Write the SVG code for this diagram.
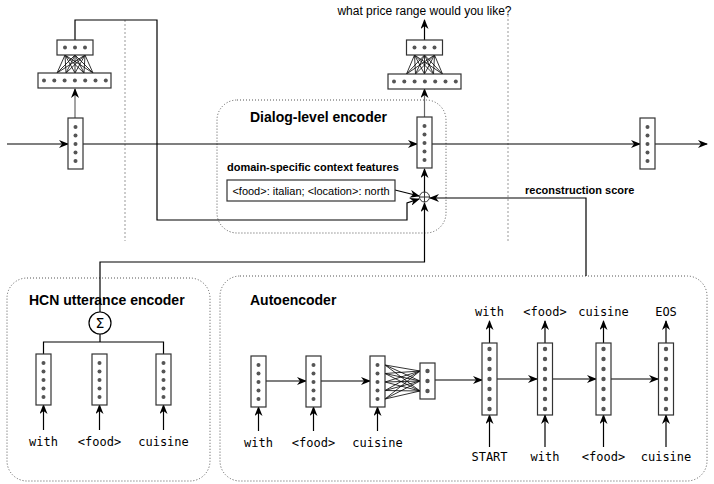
<svg xmlns="http://www.w3.org/2000/svg" width="714" height="484" viewBox="0 0 714 484">
<style>
.vec{fill:#fff;stroke:#333;stroke-width:1.2}
.dot{fill:#555}
.ln{fill:none;stroke:#000;stroke-width:1.2}
.gl{fill:none;stroke:#666;stroke-width:1.2}
.thin{stroke:#000;stroke-width:0.8}
.sep{stroke:#999;stroke-width:1;stroke-dasharray:2,2}
.grp{fill:none;stroke:#555;stroke-width:1;stroke-dasharray:1,2}
.hd{font-family:"Liberation Sans",Arial,sans-serif;font-weight:bold;font-size:14px}
.sm{font-family:"Liberation Sans",Arial,sans-serif;font-size:11px}
.smb{font-family:"Liberation Sans",Arial,sans-serif;font-size:11px;font-weight:bold}
.tt{font-family:"Liberation Sans",Arial,sans-serif;font-size:12px}
.mono{font-family:"DejaVu Sans Mono",monospace;font-size:12px;text-anchor:middle}
</style>
<defs>
<marker id="ah" viewBox="0 0 10 8" refX="9" refY="4" markerWidth="10" markerHeight="8" markerUnits="userSpaceOnUse" orient="auto">
<path d="M0,0 L10,4 L0,8 L3,4 z" fill="#000"/>
</marker>
</defs>

<!-- separators -->
<line class="sep" x1="125" y1="20" x2="125" y2="241"/>
<line class="sep" x1="508" y1="15" x2="508" y2="241"/>

<!-- group boxes -->
<g id="dialog-encoder">
<rect class="grp" x="217" y="100" width="229" height="133" rx="20"/>
<text class="hd" x="250" y="122">Dialog-level encoder</text>
<text class="smb" x="227" y="171">domain-specific context features</text>
</g>
<g id="hcn-encoder">
<rect class="grp" x="7" y="278" width="203" height="203" rx="20"/>
<text class="hd" x="29" y="305">HCN utterance encoder</text>
</g>
<g id="autoencoder">
<rect class="grp" x="220" y="276" width="487" height="205" rx="20"/>
<text class="hd" x="250" y="305">Autoencoder</text>
</g>

<!-- connectors -->
<g id="connectors">
<line class="ln" x1="7" y1="144" x2="68" y2="144" marker-end="url(#ah)"/>
<line class="ln" x1="83" y1="144" x2="417" y2="144" marker-end="url(#ah)"/>
<line class="ln" x1="432" y1="144" x2="640" y2="144" marker-end="url(#ah)"/>
<line class="ln" x1="655" y1="144" x2="707" y2="144" marker-end="url(#ah)"/>
<line class="gl" x1="75" y1="127" x2="75" y2="89" marker-end="url(#ah)"/>
<line class="gl" x1="424.5" y1="127" x2="424.5" y2="89" marker-end="url(#ah)"/>
<line class="ln" x1="424.5" y1="40" x2="424.5" y2="20" marker-end="url(#ah)"/>
<path class="ln" d="M75,40 V20 H157 V220 H407 V203 L419,199" marker-end="url(#ah)"/>
<line class="ln" x1="395" y1="190" x2="419" y2="196" marker-end="url(#ah)"/>
<line class="ln" x1="424.5" y1="192" x2="424.5" y2="169" marker-end="url(#ah)"/>
<path class="ln" d="M586,276 V198 H430" marker-end="url(#ah)"/>
<path class="ln" d="M100,312 V262 H424.5 V203" marker-end="url(#ah)"/>
<path class="ln" d="M100,334 V342 M43.5,354 V342 H163.5 V354"/>
<line class="ln" x1="43.5" y1="430" x2="43.5" y2="405" marker-end="url(#ah)"/>
<line class="ln" x1="99.5" y1="430" x2="99.5" y2="405" marker-end="url(#ah)"/>
<line class="ln" x1="163.5" y1="430" x2="163.5" y2="405" marker-end="url(#ah)"/>
<line class="ln" x1="258.5" y1="431" x2="258.5" y2="407" marker-end="url(#ah)"/>
<line class="ln" x1="313.5" y1="431" x2="313.5" y2="407" marker-end="url(#ah)"/>
<line class="ln" x1="377.5" y1="431" x2="377.5" y2="407" marker-end="url(#ah)"/>
<line class="ln" x1="266" y1="381" x2="306" y2="381" marker-end="url(#ah)"/>
<line class="ln" x1="321" y1="381" x2="370" y2="381" marker-end="url(#ah)"/>
<line class="ln" x1="435" y1="380" x2="482" y2="380" marker-end="url(#ah)"/>
<line class="ln" x1="497" y1="379" x2="537" y2="379" marker-end="url(#ah)"/>
<line class="ln" x1="553" y1="379" x2="596" y2="379" marker-end="url(#ah)"/>
<line class="ln" x1="611" y1="379" x2="658" y2="379" marker-end="url(#ah)"/>
<line class="ln" x1="489.5" y1="343" x2="489.5" y2="321" marker-end="url(#ah)"/>
<line class="ln" x1="545" y1="343" x2="545" y2="321" marker-end="url(#ah)"/>
<line class="ln" x1="603.5" y1="343" x2="603.5" y2="321" marker-end="url(#ah)"/>
<line class="ln" x1="666" y1="343" x2="666" y2="321" marker-end="url(#ah)"/>
<line class="ln" x1="489.5" y1="447" x2="489.5" y2="415" marker-end="url(#ah)"/>
<line class="ln" x1="545" y1="447" x2="545" y2="415" marker-end="url(#ah)"/>
<line class="ln" x1="603.5" y1="447" x2="603.5" y2="415" marker-end="url(#ah)"/>
<line class="ln" x1="666" y1="447" x2="666" y2="415" marker-end="url(#ah)"/>
<!-- MLP fans -->
<g class="thin">
<path d="M65,55 L57,73 M65,55 L66,73 M65,55 L75,73 M65,55 L84,73 M65,55 L93,73
M75,55 L57,73 M75,55 L66,73 M75,55 L75,73 M75,55 L84,73 M75,55 L93,73
M85,55 L57,73 M85,55 L66,73 M85,55 L75,73 M85,55 L84,73 M85,55 L93,73"/>
<path d="M414.5,55 L406.5,74 M414.5,55 L415.5,74 M414.5,55 L424.5,74 M414.5,55 L433.5,74 M414.5,55 L442.5,74
M424.5,55 L406.5,74 M424.5,55 L415.5,74 M424.5,55 L424.5,74 M424.5,55 L433.5,74 M424.5,55 L442.5,74
M434.5,55 L406.5,74 M434.5,55 L415.5,74 M434.5,55 L424.5,74 M434.5,55 L433.5,74 M434.5,55 L442.5,74"/>
<path d="M385,365 L420,371 M385,365 L420,381 M385,365 L420,391
M385,373.5 L420,371 M385,373.5 L420,381 M385,373.5 L420,391
M385,382 L420,371 M385,382 L420,381 M385,382 L420,391
M385,390.5 L420,371 M385,390.5 L420,381 M385,390.5 L420,391
M385,399 L420,371 M385,399 L420,381 M385,399 L420,391"/>
</g>
</g>

<!-- top-left MLP -->
<g id="mlp-left">
<rect class="vec" x="57" y="40" width="36" height="15"/>
<circle class="dot" cx="65" cy="47.5" r="2"/><circle class="dot" cx="75" cy="47.5" r="2"/><circle class="dot" cx="85" cy="47.5" r="2"/>
<rect class="vec" x="38" y="73" width="73" height="15"/>
<circle class="dot" cx="44" cy="80.5" r="2"/><circle class="dot" cx="54.3" cy="80.5" r="2"/><circle class="dot" cx="64.6" cy="80.5" r="2"/><circle class="dot" cx="74.9" cy="80.5" r="2"/><circle class="dot" cx="85.2" cy="80.5" r="2"/><circle class="dot" cx="95.5" cy="80.5" r="2"/><circle class="dot" cx="105.8" cy="80.5" r="2"/>
</g>

<!-- top-middle MLP -->
<g id="mlp-mid">
<text class="tt" x="424.5" y="15" text-anchor="middle">what price range would you like?</text>
<rect class="vec" x="406.5" y="40" width="36" height="15"/>
<circle class="dot" cx="414.5" cy="47.5" r="2"/><circle class="dot" cx="424.5" cy="47.5" r="2"/><circle class="dot" cx="434.5" cy="47.5" r="2"/>
<rect class="vec" x="388" y="74" width="73" height="15"/>
<circle class="dot" cx="394" cy="81.5" r="2"/><circle class="dot" cx="404.3" cy="81.5" r="2"/><circle class="dot" cx="414.6" cy="81.5" r="2"/><circle class="dot" cx="424.9" cy="81.5" r="2"/><circle class="dot" cx="435.2" cy="81.5" r="2"/><circle class="dot" cx="445.5" cy="81.5" r="2"/><circle class="dot" cx="455.8" cy="81.5" r="2"/>
</g>

<!-- dialog state vectors -->
<g id="state-1">
<rect class="vec" x="68" y="118" width="15" height="51"/>
<circle class="dot" cx="75.5" cy="127" r="2"/><circle class="dot" cx="75.5" cy="135.5" r="2"/><circle class="dot" cx="75.5" cy="144" r="2"/><circle class="dot" cx="75.5" cy="152.5" r="2"/><circle class="dot" cx="75.5" cy="161" r="2"/>
</g>
<g id="state-2">
<rect class="vec" x="417" y="117" width="15" height="51"/>
<circle class="dot" cx="424.5" cy="126" r="2"/><circle class="dot" cx="424.5" cy="134.5" r="2"/><circle class="dot" cx="424.5" cy="143" r="2"/><circle class="dot" cx="424.5" cy="151.5" r="2"/><circle class="dot" cx="424.5" cy="160" r="2"/>
</g>
<g id="state-3">
<rect class="vec" x="640" y="118" width="15" height="51"/>
<circle class="dot" cx="647.5" cy="127" r="2"/><circle class="dot" cx="647.5" cy="135.5" r="2"/><circle class="dot" cx="647.5" cy="144" r="2"/><circle class="dot" cx="647.5" cy="152.5" r="2"/><circle class="dot" cx="647.5" cy="161" r="2"/>
</g>

<g id="context-features">
<rect class="vec" x="227" y="180" width="168" height="21"/>
<text class="sm" x="311" y="194.5" text-anchor="middle">&lt;food&gt;: italian; &lt;location&gt;: north</text>
</g>

<g id="oplus">
<circle cx="424.5" cy="197" r="5" fill="#fff" stroke="#333" stroke-width="1"/>
<path d="M419.5,197 H429.5 M424.5,192 V202" stroke="#333" stroke-width="1"/>
</g>

<text class="smb" x="525" y="194">reconstruction score</text>

<!-- HCN -->
<g id="sum">
<circle cx="100" cy="323" r="11" fill="#fff" stroke="#000" stroke-width="1.2"/>
<text x="100" y="328" text-anchor="middle" style="font-family:'DejaVu Sans',sans-serif;font-size:14px">Σ</text>
</g>
<g id="hcn-vec-1">
<rect class="vec" x="36" y="354" width="15" height="51"/>
<circle class="dot" cx="43.5" cy="363" r="2"/><circle class="dot" cx="43.5" cy="371.5" r="2"/><circle class="dot" cx="43.5" cy="380" r="2"/><circle class="dot" cx="43.5" cy="388.5" r="2"/><circle class="dot" cx="43.5" cy="397" r="2"/>
<text class="mono" x="43.5" y="446">with</text>
</g>
<g id="hcn-vec-2">
<rect class="vec" x="92" y="354" width="15" height="51"/>
<circle class="dot" cx="99.5" cy="363" r="2"/><circle class="dot" cx="99.5" cy="371.5" r="2"/><circle class="dot" cx="99.5" cy="380" r="2"/><circle class="dot" cx="99.5" cy="388.5" r="2"/><circle class="dot" cx="99.5" cy="397" r="2"/>
<text class="mono" x="99.5" y="446">&lt;food&gt;</text>
</g>
<g id="hcn-vec-3">
<rect class="vec" x="156" y="354" width="15" height="51"/>
<circle class="dot" cx="163.5" cy="363" r="2"/><circle class="dot" cx="163.5" cy="371.5" r="2"/><circle class="dot" cx="163.5" cy="380" r="2"/><circle class="dot" cx="163.5" cy="388.5" r="2"/><circle class="dot" cx="163.5" cy="397" r="2"/>
<text class="mono" x="163.5" y="446">cuisine</text>
</g>

<!-- Autoencoder encoder -->
<g id="enc-1">
<rect class="vec" x="251" y="356" width="15" height="51"/>
<circle class="dot" cx="258.5" cy="365" r="2"/><circle class="dot" cx="258.5" cy="373.5" r="2"/><circle class="dot" cx="258.5" cy="382" r="2"/><circle class="dot" cx="258.5" cy="390.5" r="2"/><circle class="dot" cx="258.5" cy="399" r="2"/>
<text class="mono" x="258.5" y="447">with</text>
</g>
<g id="enc-2">
<rect class="vec" x="306" y="356" width="15" height="51"/>
<circle class="dot" cx="313.5" cy="365" r="2"/><circle class="dot" cx="313.5" cy="373.5" r="2"/><circle class="dot" cx="313.5" cy="382" r="2"/><circle class="dot" cx="313.5" cy="390.5" r="2"/><circle class="dot" cx="313.5" cy="399" r="2"/>
<text class="mono" x="313.5" y="447">&lt;food&gt;</text>
</g>
<g id="enc-3">
<rect class="vec" x="370" y="356" width="15" height="51"/>
<circle class="dot" cx="377.5" cy="365" r="2"/><circle class="dot" cx="377.5" cy="373.5" r="2"/><circle class="dot" cx="377.5" cy="382" r="2"/><circle class="dot" cx="377.5" cy="390.5" r="2"/><circle class="dot" cx="377.5" cy="399" r="2"/>
<text class="mono" x="377.5" y="447">cuisine</text>
</g>
<g id="bottleneck">
<rect class="vec" x="420" y="363" width="15" height="36"/>
<circle class="dot" cx="427.5" cy="371" r="2.2"/><circle class="dot" cx="427.5" cy="381" r="2.2"/><circle class="dot" cx="427.5" cy="391" r="2.2"/>
</g>

<!-- Decoder -->
<g id="dec-1">
<rect class="vec" x="482" y="343" width="15" height="72"/>
<circle class="dot" cx="489.5" cy="349" r="2.2"/><circle class="dot" cx="489.5" cy="359" r="2.2"/><circle class="dot" cx="489.5" cy="369" r="2.2"/><circle class="dot" cx="489.5" cy="379" r="2.2"/><circle class="dot" cx="489.5" cy="389" r="2.2"/><circle class="dot" cx="489.5" cy="399" r="2.2"/><circle class="dot" cx="489.5" cy="409" r="2.2"/>
<text class="mono" x="489.5" y="316">with</text>
<text class="mono" x="489.5" y="461">START</text>
</g>
<g id="dec-2">
<rect class="vec" x="537.5" y="343" width="15" height="72"/>
<circle class="dot" cx="545" cy="349" r="2.2"/><circle class="dot" cx="545" cy="359" r="2.2"/><circle class="dot" cx="545" cy="369" r="2.2"/><circle class="dot" cx="545" cy="379" r="2.2"/><circle class="dot" cx="545" cy="389" r="2.2"/><circle class="dot" cx="545" cy="399" r="2.2"/><circle class="dot" cx="545" cy="409" r="2.2"/>
<text class="mono" x="545" y="316">&lt;food&gt;</text>
<text class="mono" x="545" y="461">with</text>
</g>
<g id="dec-3">
<rect class="vec" x="596" y="343" width="15" height="72"/>
<circle class="dot" cx="603.5" cy="349" r="2.2"/><circle class="dot" cx="603.5" cy="359" r="2.2"/><circle class="dot" cx="603.5" cy="369" r="2.2"/><circle class="dot" cx="603.5" cy="379" r="2.2"/><circle class="dot" cx="603.5" cy="389" r="2.2"/><circle class="dot" cx="603.5" cy="399" r="2.2"/><circle class="dot" cx="603.5" cy="409" r="2.2"/>
<text class="mono" x="603.5" y="316">cuisine</text>
<text class="mono" x="603.5" y="461">&lt;food&gt;</text>
</g>
<g id="dec-4">
<rect class="vec" x="658.5" y="343" width="15" height="72"/>
<circle class="dot" cx="666" cy="349" r="2.2"/><circle class="dot" cx="666" cy="359" r="2.2"/><circle class="dot" cx="666" cy="369" r="2.2"/><circle class="dot" cx="666" cy="379" r="2.2"/><circle class="dot" cx="666" cy="389" r="2.2"/><circle class="dot" cx="666" cy="399" r="2.2"/><circle class="dot" cx="666" cy="409" r="2.2"/>
<text class="mono" x="666" y="316">EOS</text>
<text class="mono" x="666" y="461">cuisine</text>
</g>
</svg>
